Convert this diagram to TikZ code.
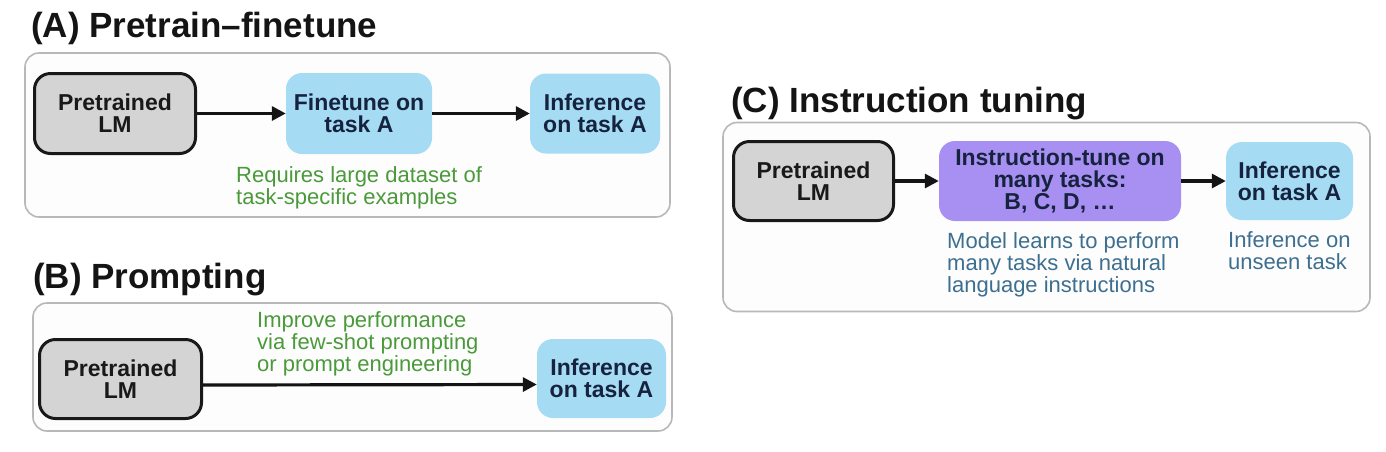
\documentclass[tikz,border=0pt]{standalone}
\usepackage{fontspec}
\setmainfont{Liberation Sans}
\usetikzlibrary{arrows.meta}
\definecolor{boxblue}{HTML}{A6DBF4}
\definecolor{boxpurple}{HTML}{A890F2}
\definecolor{boxgray}{HTML}{D4D4D4}
\definecolor{notegreen}{HTML}{4A9A3A}
\definecolor{noteblue}{HTML}{3D6F90}
\definecolor{navytext}{HTML}{16233F}
\definecolor{panelline}{HTML}{B8B8B8}
\definecolor{panelfill}{HTML}{FDFDFD}
\newcommand{\titlefont}{\fontsize{35}{40}\selectfont\bfseries}
\newcommand{\boxfont}{\fontsize{23}{21.8}\selectfont\bfseries}
\newcommand{\notefont}{\fontsize{22}{21.8}\selectfont}
\begin{document}
\begin{tikzpicture}[x=1pt,y=-1pt,
  panel/.style={draw=panelline, line width=1.6pt, fill=panelfill, rounded corners=14pt},
  lmbox/.style={draw=black!90, line width=3pt, fill=boxgray, rounded corners=16pt,
    font=\boxfont, text=black!90, align=center, inner sep=0pt},
  bluebox/.style={fill=boxblue, rounded corners=16pt,
    font=\boxfont, text=navytext, align=center, inner sep=0pt},
  purplebox/.style={fill=boxpurple, rounded corners=16pt,
    font=\boxfont, text=navytext, align=center, inner sep=0pt},
  ttl/.style={anchor=base west, font=\titlefont, inner sep=0pt, text=black!92},
  greennote/.style={anchor=base west, inner sep=0pt, font=\notefont, text=notegreen},
  bluenote/.style={anchor=base west, inner sep=0pt, font=\notefont, text=noteblue},
  flow/.style={line width=3.2pt, draw=black!92, -{Triangle[length=14pt,width=14pt]}}
]
\useasboundingbox (0,0) rectangle (1386,451);

% ---------- Panel A ----------
\node[ttl] (tA) at (31,37) {(A) Pretrain–finetune};
\draw[panel] (25,53) rectangle (670,217);
\node[lmbox, minimum width=161pt, minimum height=80pt] (A1) at (115,113.5) {Pretrained\\LM};
\node[bluebox, minimum width=146pt, minimum height=81pt] (A2) at (359,113.5) {Finetune on\\task A};
\node[bluebox, minimum width=130pt, minimum height=80pt] (A3) at (595,113.5) {Inference\\on task A};
\draw[flow] (A1) -- (A2);
\draw[flow] (A2) -- (A3);
\node[greennote] (nA) at (236,182) {\begin{tabular}[t]{@{}l@{}}Requires large dataset of\\task-specific examples\end{tabular}};

% ---------- Panel B ----------
\node[ttl] (tB) at (33,288) {(B) Prompting};
\draw[panel] (33,303) rectangle (672,431);
\node[lmbox, minimum width=162pt, minimum height=79pt] (B1) at (120.5,379) {Pretrained\\LM};
\node[bluebox, minimum width=129pt, minimum height=79pt] (B2) at (601.5,378.5) {Inference\\on task A};
\draw[flow] ([yshift=-6pt]B1.east) -- ([yshift=-6pt]B2.west);
\node[greennote] (nB) at (257,327) {\begin{tabular}[t]{@{}l@{}}Improve performance\\via few-shot prompting\\or prompt engineering\end{tabular}};

% ---------- Panel C ----------
\node[ttl] (tC) at (731,112) {(C) Instruction tuning};
\draw[panel] (723,122.5) rectangle (1370,311.5);
\node[lmbox, minimum width=160pt, minimum height=79pt] (C1) at (813.5,181) {Pretrained\\LM};
\node[purplebox, minimum width=242pt, minimum height=80pt] (C2) at (1060,181) {Instruction-tune on\\many tasks:\\B, C, D, …};
\node[bluebox, minimum width=127pt, minimum height=78pt] (C3) at (1289.5,181) {Inference\\on task A};
\draw[flow] (C1) -- (C2);
\draw[flow] (C2) -- (C3);
\node[bluenote] (nC1) at (947,248) {\begin{tabular}[t]{@{}l@{}}Model learns to perform\\many tasks via natural\\language instructions\end{tabular}};
\node[bluenote] (nC2) at (1228,247) {\begin{tabular}[t]{@{}l@{}}Inference on\\unseen task\end{tabular}};
\end{tikzpicture}
\end{document}
